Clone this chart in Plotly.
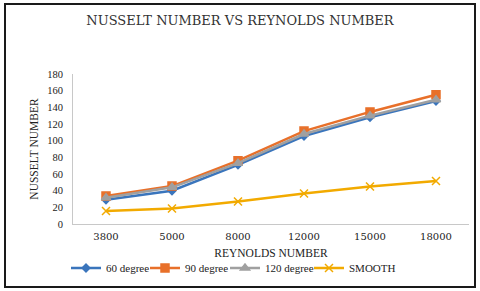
import plotly.graph_objects as go

categories = ["3800", "5000", "8000", "12000", "15000", "18000"]
deg60 = [29, 40, 71, 105.5, 128, 147.5]
deg90 = [33.5, 45.5, 76, 111.5, 134.5, 155]
deg120 = [31.5, 44, 73, 108, 130, 149]
smooth = [15.5, 18.5, 27, 36.5, 45, 51.5]
y_ticks = [0, 20, 40, 60, 80, 100, 120, 140, 160, 180]

serif = "Liberation Serif, Times New Roman, serif"
wide = "DejaVu Serif, serif"
fig = go.Figure()
series = [
    ("60 degree", deg60, "#3A75BC", "diamond", 6, "legend", 73),
    ("90 degree", deg90, "#E8702A", "square", 8, "legend2", 152),
    ("120 degree", deg120, "#A0A0A0", "triangle-up", 8, "legend3", 232),
    ("SMOOTH", smooth, "#F2AA00", "x-thin-open", 8, "legend4", 316),
]
legend_layout = {}
for name, vals, col, sym, sz, lg, px in series:
    fig.add_trace(go.Scatter(
        x=categories, y=vals, name=name, mode="lines+markers", legend=lg,
        line=dict(color=col, width=2.5),
        marker=dict(symbol=sym, size=sz, color=col, line=dict(color=col, width=1.5)),
    ))
    legend_layout[lg] = dict(
        orientation="h", x=(px - 7 - 73) / 396, xanchor="left",
        y=-0.293, yanchor="middle",
        font=dict(family=serif, size=11, color="#222222"),
        itemwidth=30, bgcolor="rgba(0,0,0,0)", borderwidth=0,
    )

fig.update_layout(
    width=480, height=291,
    margin=dict(l=73, r=11, t=74, b=67, autoexpand=False),
    paper_bgcolor="white", plot_bgcolor="white",
    title=dict(text="NUSSELT NUMBER VS REYNOLDS NUMBER", x=0.5, xanchor="center",
               y=1 - 20 / 291, yanchor="middle",
               font=dict(family=wide, size=13, color="#333333")),
    xaxis=dict(type="category", range=[-0.5, 5.5], showgrid=False, showline=True,
               linecolor="#C8C8C8", linewidth=1, ticks="", automargin=False,
               ticklabelstandoff=3,
               tickfont=dict(family=wide, size=10, color="#222222"),
               title=dict(text="REYNOLDS NUMBER", standoff=7,
                          font=dict(family=serif, size=11.5, color="#222222"))),
    yaxis=dict(range=[0, 180], tickvals=y_ticks, showgrid=False, showline=True,
               linecolor="#C8C8C8", linewidth=1, ticks="", zeroline=False, automargin=False,
               ticklabelstandoff=7,
               tickfont=dict(family=serif, size=10.5, color="#222222"),
               title=dict(text="NUSSELT NUMBER", standoff=6,
                          font=dict(family=serif, size=11.5, color="#222222"))),
    showlegend=True,
    **legend_layout,
)
fig.add_shape(type="rect", xref="paper", yref="paper",
              x0=(5 - 73) / 396, x1=(475 - 73) / 396,
              y0=(224 - 287) / 150, y1=(224 - 4) / 150,
              line=dict(color="#1a1a1a", width=2), layer="below")
fig.write_html("out.html", config={"displayModeBar": False},
               post_script="document.body.style.margin='0';document.body.style.padding='0';")
